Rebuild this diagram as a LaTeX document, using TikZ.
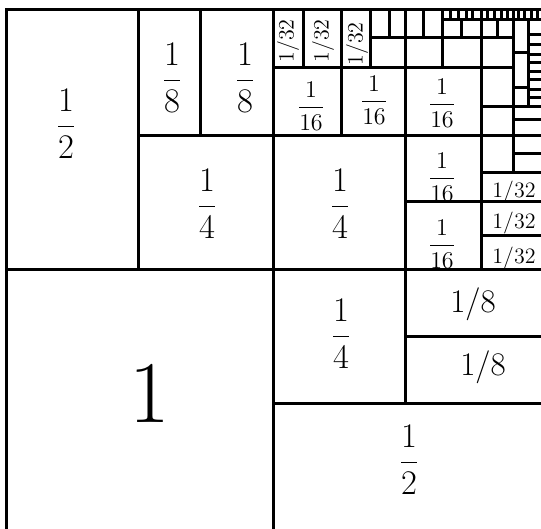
\documentclass[tikz,border=0pt]{standalone}
\usepackage{amsmath}
\usepackage{tikz}

\begin{document}
\begin{tikzpicture}[
    x=0.5pt, y=-0.5pt,
    grid/.style={line width=1.5pt},
    fbig/.style={inner sep=0pt, font=\fontsize{17}{20}\selectfont},
    fmid/.style={inner sep=0pt, font=\fontsize{16}{19}\selectfont},
    fsmall/.style={inner sep=0pt, font=\fontsize{13}{16}\selectfont},
    slash/.style={inner sep=0pt, font=\fontsize{16.5}{19}\selectfont},
    tiny/.style={inner sep=0pt, font=\fontsize{11}{13}\selectfont}
]
\useasboundingbox (0,0) rectangle (541,529);

% frame and main cuts
\draw[grid] (6,529) -- (6,10) -- (541,10);
\draw[grid] (6,270) -- (541,270);
\draw[grid] (138,10) -- (138,270);
\draw[grid] (200,10) -- (200,136);
\draw[grid] (138,136) -- (541,136);
\draw[grid] (273,10) -- (273,529);
\draw[grid] (405,10) -- (405,403);
\draw[grid] (273,403) -- (541,403);
\draw[grid] (405,337) -- (541,337);
\draw[grid] (405,202) -- (541,202);
\draw[grid] (481,10) -- (481,270);
\draw[grid] (481,173) -- (541,173);
\draw[grid] (481,236) -- (541,236);

% top right corner
\draw[grid] (273,68) -- (513,68);
\draw[grid] (341,10) -- (341,136);
\draw[grid] (303,10) -- (303,68);
\draw[grid] (370,10) -- (370,68);
\draw[grid] (389,10) -- (389,38);
\draw[grid] (370,38) -- (405,38);
\draw[grid] (423,10) -- (423,38);
\draw[grid] (405,38) -- (513,38);
\draw[grid] (442,10) -- (442,68);
\draw[grid] (442,20) -- (541,20);
\draw[grid] (461,20) -- (461,38);
\draw[grid] (497,20) -- (497,38);
\draw[grid] (513,10) -- (513,173);
\draw[grid] (528,20) -- (528,105);
\draw[grid] (513,53) -- (528,53);
\draw[grid] (513,88) -- (528,88);
\draw[grid] (481,107) -- (541,107);
\draw[grid] (513,120) -- (541,120);
\draw[grid] (513,154) -- (541,154);
\foreach \x in {450,458,466,472,487,494,501,507,518,524,531,537}
    \draw[grid] (\x,10) -- (\x,20);
\foreach \y in {35,45,55,63,72,80,90,98}
    \draw[grid] (528,\y) -- (541,\y);

% labels
\node[fbig] (half1) at (66,124) {$\dfrac{1}{2}$};
\node[fmid] (eighth1) at (172,78) {$\dfrac{1}{8}$};
\node[fmid] (eighth2) at (245,78) {$\dfrac{1}{8}$};
\node[fmid] (quarter1) at (207,204) {$\dfrac{1}{4}$};
\node[fmid] (quarter2) at (340,204) {$\dfrac{1}{4}$};
\node[fsmall] (sixt1) at (311,106) {$\dfrac{1}{16}$};
\node[fsmall] (sixt2) at (374,100) {$\dfrac{1}{16}$};
\node[fsmall] (sixt3) at (442,103) {$\dfrac{1}{16}$};
\node[fsmall] (sixt4) at (442,177) {$\dfrac{1}{16}$};
\node[fsmall] (sixt5) at (442,244) {$\dfrac{1}{16}$};
\node[tiny, rotate=90] (tt1) at (288,41) {1/32};
\node[tiny, rotate=90] (tt2) at (323,41) {1/32};
\node[tiny, rotate=90] (tt3) at (357,44) {1/32};
\node[tiny] (tt4) at (514,192) {1/32};
\node[tiny] (tt5) at (514,223) {1/32};
\node[tiny] (tt6) at (514,258) {1/32};
\node[inner sep=0pt, font=\fontsize{44}{50}\selectfont] (one) at (150,393) {1};
\node[fbig] (quarter3) at (341,334) {$\dfrac{1}{4}$};
\node[slash] (eighth3) at (473,304) {1/8};
\node[slash] (eighth4) at (483,367) {1/8};
\node[fbig] (half2) at (409,460) {$\dfrac{1}{2}$};
\end{tikzpicture}
\end{document}
